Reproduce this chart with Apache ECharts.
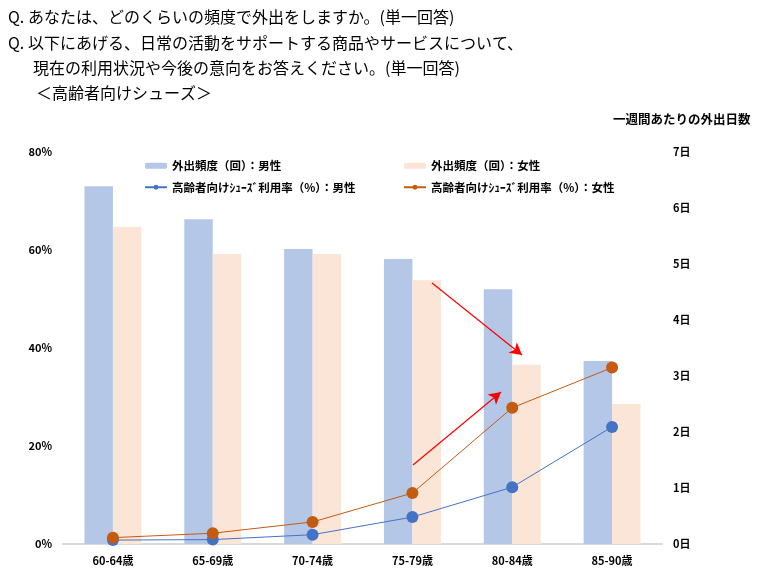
<!DOCTYPE html>
<html><head><meta charset="utf-8">
<script src="https://cdn.jsdelivr.net/npm/echarts@6/dist/echarts.min.js"></script>
<style>html,body{margin:0;padding:0;background:#fff}#c{width:759px;height:581px}</style>
</head><body><div id="c"></div>
<script>
const categories = ['60-64歳','65-69歳','70-74歳','75-79歳','80-84歳','85-90歳'];
const freqMale = [6.39, 5.80, 5.27, 5.09, 4.55, 3.27];
const freqFemale = [5.66, 5.18, 5.18, 4.71, 3.20, 2.50];
const rateMale = [0.8, 0.9, 1.9, 5.5, 11.6, 23.9];
const rateFemale = [1.3, 2.2, 4.5, 10.4, 27.8, 36.0];
const leftTicks = {min:0, max:80, interval:20};
const rightTicks = {min:0, max:7, interval:1};
const titleLines = [
  'Q. あなたは、どのくらいの頻度で外出をしますか。(単一回答)',
  'Q. 以下にあげる、日常の活動をサポートする商品やサービスについて、',
  '現在の利用状況や今後の意向をお答えください。(単一回答)',
  '＜高齢者向けシューズ＞'
];
const names = ['外出頻度（回）：男性','外出頻度（回）：女性','高齢者向けｼｭｰｽﾞ利用率（%）：男性','高齢者向けｼｭｰｽﾞ利用率（%）：女性'];
const FONT = '"Noto Sans CJK JP", sans-serif';
const chart = echarts.init(document.getElementById('c'));
const lblStyle = {color:'#000', fontWeight:'bold', fontSize:11, fontFamily:FONT};
const legStyle = {color:'#000', fontWeight:'bold', fontSize:11.5, fontFamily:FONT};
chart.setOption({
  animation:false,
  textStyle:{fontFamily:FONT},
  graphic:[
    {type:'text', left:8, top:9, style:{text:titleLines[0], font:'16px '+FONT, fill:'#000'}},
    {type:'text', left:8, top:35, style:{text:titleLines[1], font:'16px '+FONT, fill:'#000'}},
    {type:'text', left:33, top:60, style:{text:titleLines[2], font:'16px '+FONT, fill:'#000'}},
    {type:'text', left:36, top:85, style:{text:titleLines[3], font:'16px '+FONT, fill:'#000'}},
    {type:'text', left:613, top:113, style:{text:'一週間あたりの外出日数', font:'bold 12.5px '+FONT, fill:'#000'}}
  ],
  legend:[
    {orient:'vertical', left:144, top:160, padding:0, itemWidth:22, itemHeight:6, itemGap:10,
     data:[names[0], names[2]], textStyle:legStyle},
    {orient:'vertical', left:403, top:160, padding:0, itemWidth:22, itemHeight:6, itemGap:10,
     data:[names[1], names[3]], textStyle:legStyle}
  ],
  grid:{left:63, right:97, top:152, bottom:37},
  xAxis:{type:'category', data:categories,
    axisLine:{lineStyle:{color:'#d9d9d9', width:2}}, axisTick:{show:false},
    axisLabel:Object.assign({margin:11}, lblStyle)},
  yAxis:[
    {type:'value', min:leftTicks.min, max:leftTicks.max, interval:leftTicks.interval, position:'left',
     splitLine:{show:false}, axisLine:{show:false}, axisTick:{show:false},
     axisLabel:Object.assign({formatter:'{value}%', margin:11}, lblStyle)},
    {type:'value', min:rightTicks.min, max:rightTicks.max, interval:rightTicks.interval, position:'right',
     splitLine:{show:false}, axisLine:{show:false}, axisTick:{show:false},
     axisLabel:Object.assign({formatter:'{value}日', margin:11}, lblStyle)}
  ],
  series:[
    {name:names[0], type:'bar', yAxisIndex:1, data:freqMale, barGap:'0%', barCategoryGap:'43%',
     itemStyle:{color:'#b4c7e7'}, z:1},
    {name:names[1], type:'bar', yAxisIndex:1, data:freqFemale, barGap:'0%', barCategoryGap:'43%',
     itemStyle:{color:'#fbe5d6'}, z:1},
    {name:names[2], type:'line', yAxisIndex:0, data:rateMale, symbol:'circle', symbolSize:12,
     lineStyle:{color:'#4472c4', width:1}, itemStyle:{color:'#4472c4'}, z:5},
    {name:names[3], type:'line', yAxisIndex:0, data:rateFemale, symbol:'circle', symbolSize:12,
     lineStyle:{color:'#c55a11', width:1}, itemStyle:{color:'#c55a11'}, z:5,
     markLine:{silent:true, symbol:['none','arrow'], symbolSize:[10,12],
       lineStyle:{color:'#ff0000', width:1.2, type:'solid'}, label:{show:false},
       data:[
         [{x:432, y:283},{x:522, y:355}],
         [{x:413, y:465},{x:501, y:392}]
       ]}}
  ]
});
</script></body></html>
